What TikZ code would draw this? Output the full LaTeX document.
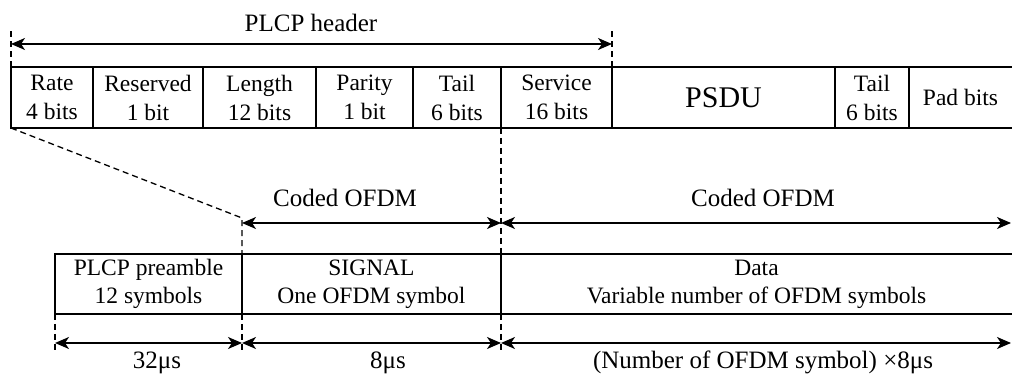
\documentclass[tikz,border=0pt]{standalone}
\usepackage{fontspec}
\setmainfont{Liberation Serif}
\usetikzlibrary{arrows.meta}
\begin{document}
\begin{tikzpicture}[x=1pt,y=-1pt,
  cell/.style={draw, line width=1.7pt, inner sep=0pt, outer sep=0pt, minimum height=61pt, anchor=north west, align=center, font=\fontsize{23.5}{29}\selectfont},
  lowcell/.style={cell, minimum height=60pt, font=\fontsize{23.5}{28}\selectfont},
  guide/.style={line width=1.3pt, dash pattern=on 6pt off 4pt},
  dimarrow/.style={{Stealth[length=14pt,width=12pt,inset=4pt]}-{Stealth[length=14pt,width=12pt,inset=4pt]}, line width=1.6pt},
  lbl/.style={font=\fontsize{25}{30}\selectfont, anchor=base, inner sep=0pt}
]
\useasboundingbox (0,0) rectangle (1012,379);
% top row
\node[cell, minimum width=82pt] (rate) at (11,67) {Rate\\4 bits};
\node[cell, minimum width=110pt] (reserved) at (93,67) {Reserved\\1 bit};
\node[cell, minimum width=113pt] (length) at (203,67) {Length\\12 bits};
\node[cell, minimum width=97pt] (parity) at (316,67) {Parity\\1 bit};
\node[cell, minimum width=88pt] (tail) at (413,67) {Tail\\6 bits};
\node[cell, minimum width=111pt] (service) at (501,67) {Service\\16 bits};
\node[cell, minimum width=223pt, font=\fontsize{30}{36}\selectfont] (psdu) at (612,67) {PSDU};
\node[cell, minimum width=74pt] (tail2) at (835,67) {Tail\\6 bits};
\node[cell, minimum width=103pt, draw=none] (pad) at (909,67) {Pad bits};
\draw[line width=1.7pt] (pad.north west) -- (pad.north east) (pad.south west) -- (pad.south east);
% bottom row
\node[lowcell, minimum width=187pt] (pre) at (55,254) {PLCP preamble\\12 symbols};
\node[lowcell, minimum width=259pt] (sig) at (242,254) {SIGNAL\\One OFDM symbol};
\node[lowcell, minimum width=511pt, draw=none] (data) at (501,254) {Data\\Variable number of OFDM symbols};
\draw[line width=1.7pt] (data.north west) -- (data.north east) (data.south west) -- (data.south east);
% header guides and arrow
\coordinate (ht1) at (11,30);
\coordinate (ht2) at (612,30);
\coordinate (h1) at (11,44);
\coordinate (h2) at (612,44);
\draw[guide] (rate.north west) -- (ht1);
\draw[guide] (service.north east) -- (ht2);
\draw[dimarrow] (h1) -- (h2);
\node[lbl] (plcph) at (311,32) {PLCP header};
% mapping guides
\coordinate (bend) at (242,218);
\draw[guide] (rate.south west) -- (bend) -- (sig.north west);
\draw[guide] (service.south west) -- (data.north west);
% coded OFDM arrows
\coordinate (c1) at (242,223);
\coordinate (c2) at (501,223);
\coordinate (c3) at (1011,223);
\draw[dimarrow] (c1) -- (c2);
\draw[dimarrow] (c2) -- (c3);
\node[lbl] (cod1) at (345,207) {Coded OFDM};
\node[lbl] (cod2) at (763,207) {Coded OFDM};
% bottom guides and arrows
\coordinate (g1) at (55,350);
\coordinate (g2) at (242,350);
\coordinate (g3) at (501,350);
\draw[guide] (pre.south west) -- (g1);
\draw[guide] (sig.south west) -- (g2);
\draw[guide] (data.south west) -- (g3);
\coordinate (d1) at (55,343);
\coordinate (d2) at (242,343);
\coordinate (d3) at (501,343);
\coordinate (d4) at (1011,343);
\draw[dimarrow] (d1) -- (d2);
\draw[dimarrow] (d2) -- (d3);
\draw[dimarrow] (d3) -- (d4);
\node[lbl] (t1) at (157,368) {32μs};
\node[lbl] (t2) at (388,368) {8μs};
\node[lbl] (t3) at (763,368) {(Number of OFDM symbol) ×8μs};
\end{tikzpicture}
\end{document}
